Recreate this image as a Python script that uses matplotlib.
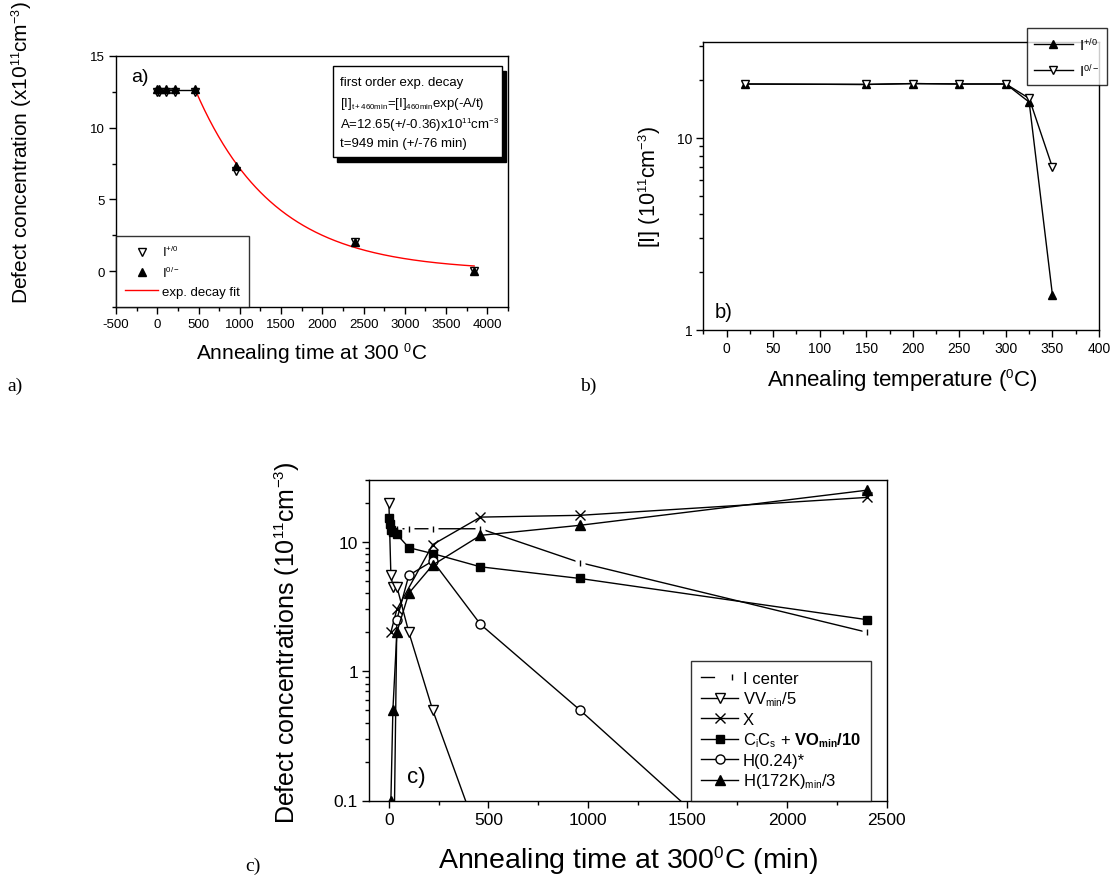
import numpy as np
import matplotlib
matplotlib.use("Agg")
import matplotlib.pyplot as plt
from matplotlib.patches import Rectangle
from matplotlib.lines import Line2D
from matplotlib.ticker import MultipleLocator, FixedLocator, FixedFormatter, LogLocator, NullFormatter
from matplotlib.legend_handler import HandlerTuple

try:
    # smaller super/subscripts, closer to the Origin look
    import matplotlib._mathtext as _mt
    _mt.SHRINK_FACTOR = 0.6
except Exception:
    pass

plt.rcParams['font.family'] = ['Liberation Sans', 'DejaVu Sans']
plt.rcParams['mathtext.fontset'] = 'custom'
plt.rcParams['mathtext.rm'] = 'Liberation Sans'
plt.rcParams['mathtext.it'] = 'Liberation Sans:italic'
plt.rcParams['mathtext.bf'] = 'Liberation Sans:bold'
plt.rcParams['axes.linewidth'] = 1.0
plt.rcParams['axes.unicode_minus'] = False

# ---------------- data ----------------
# (a) isothermal anneal at 300 C
a_time = [0, 20, 100, 220, 460, 960, 2400, 3840]
a_I_plus0 = [12.5, 12.5, 12.5, 12.5, 12.5, 7.0, 2.05, 0.0]
a_I_0minus = [12.7, 12.7, 12.7, 12.7, 12.7, 7.3, 2.05, 0.0]
fit_A = 12.65
fit_tau = 949
fit_t0 = 460
fit_tend = 3840

# (b) isochronal anneal
b_temp = [20, 150, 200, 250, 300, 325, 350]
b_I_plus0 = [19.0, 18.9, 19.1, 19.0, 19.0, 15.3, 1.52]
b_I_0minus = [19.0, 18.9, 19.1, 19.0, 19.0, 16.0, 7.0]

# (c) defect evolution at 300 C
c_I_t = [40, 100, 220, 460, 960, 2400]
c_I_v = [12.6, 12.6, 12.6, 12.6, 6.9, 2.0]
c_VV_t = [0, 10, 20, 40, 100, 220, 460]
c_VV_v = [20, 5.5, 4.5, 4.5, 2.0, 0.5, 0.048]
c_X_t = [10, 40, 220, 460, 960, 2400]
c_X_v = [2.0, 3.0, 9.5, 15.5, 16.0, 22.0]
c_CC_t = [0, 5, 10, 20, 40, 100, 220, 460, 960, 2400]
c_CC_v = [15.3, 13.8, 12.4, 11.9, 11.4, 9.0, 8.1, 6.4, 5.2, 2.5]
c_H24_t = [20, 40, 100, 220, 460, 960, 2400]
c_H24_v = [0.01, 2.5, 5.5, 7.1, 2.3, 0.5, 0.005]
c_H172_t = [10, 20, 40, 100, 220, 460, 960, 2400]
c_H172_v = [0.1, 0.5, 2.0, 4.0, 6.6, 11.2, 13.4, 25.0]

W, H = 1113, 879
fig = plt.figure(figsize=(W / 100, H / 100), dpi=100)


def box(l, t, r, b):
    return [l / W, 1 - b / H, (r - l) / W, (b - t) / H]


def fxy(x, y):
    return x / W, 1 - y / H


def style_axes(ax, size):
    ax.tick_params(which='both', direction='out', top=False, right=False,
                   labelsize=size, width=1.0, color='black')
    ax.tick_params(which='major', length=5, pad=3)
    ax.tick_params(which='minor', length=3)


# ---------------- panel (a) ----------------
ax1 = fig.add_axes(box(116, 57, 508, 308))
ax1.set_xlim(-500, 4250)
ax1.set_ylim(-2.5, 15)
ax1.xaxis.set_major_locator(MultipleLocator(500))
ax1.xaxis.set_minor_locator(MultipleLocator(250))
ax1.yaxis.set_major_locator(MultipleLocator(5))
ax1.yaxis.set_minor_locator(MultipleLocator(2.5))
style_axes(ax1, 9.5)

ax1.plot([a_time[0], fit_t0], [fit_A, fit_A], color='black', lw=1.0, zorder=2)
tt = np.linspace(fit_t0, fit_tend, 300)
ax1.plot(tt, fit_A * np.exp(-(tt - fit_t0) / fit_tau), color='red', lw=1.0, zorder=2)
ax1.plot(a_time, a_I_plus0, ls='none', marker='v', ms=6, mfc='white', mec='black', mew=1.0, zorder=3)
ax1.plot(a_time, a_I_0minus, ls='none', marker='^', ms=6, mfc='black', mec='black', zorder=3)

leg_a = [Line2D([], [], ls='none', marker='v', ms=6, mfc='white', mec='black'),
         Line2D([], [], ls='none', marker='^', ms=6, mfc='black', mec='black'),
         Line2D([], [], color='red', lw=1.0)]
la = ax1.legend(leg_a, [r'I$^{\mathregular{+/0}}$', r'I$^{\mathregular{0/-}}$', 'exp. decay fit'],
                loc='lower left', bbox_to_anchor=(0, 0), borderaxespad=0, fontsize=9.5,
                frameon=True, fancybox=False, edgecolor='black', handlelength=2.5,
                labelspacing=0.45, borderpad=0.7, handletextpad=0.3)
la.get_frame().set_linewidth(1.0)

# annotation box with drop shadow
bx0, by0 = (333 - 116) / 392, (308 - 158) / 251
bw, bh = (502 - 333) / 392, (158 - 67) / 251
ax1.add_patch(Rectangle((bx0 + 4 / 392, by0 - 5 / 251), bw, bh, transform=ax1.transAxes,
                        facecolor='black', edgecolor='black', zorder=5))
ax1.add_patch(Rectangle((bx0, by0), bw, bh, transform=ax1.transAxes,
                        facecolor='white', edgecolor='black', lw=1.0, zorder=6))
box_lines = ['first order exp. decay',
             r'[I]$_{\mathregular{t+460min}}$=[I]$_{\mathregular{460min}}$exp(-A/t)',
             r'A=12.65(+/-0.36)x10$^{\mathregular{11}}$cm$^{\mathregular{-3}}$',
             't=949 min (+/-76 min)']
for txt, yy in zip(box_lines, [83, 104, 125, 144]):
    fig.text(*fxy(340.5, yy), txt, fontsize=9.5, va='center', ha='left', zorder=7)

fig.text(*fxy(131, 78), 'a)', fontsize=14, va='center', ha='left')
fig.text(*fxy(312, 354), r'Annealing time at 300 $^{\mathregular{0}}$C', fontsize=15,
         ha='center', va='center')
fig.text(*fxy(22, 153), r'Defect concentration (x10$^{\mathregular{11}}$cm$^{\mathregular{-3}}$)',
         fontsize=15, rotation=90, ha='center', va='center')

# ---------------- panel (b) ----------------
ax2 = fig.add_axes(box(703.3, 43.3, 1099, 331))
ax2.set_yscale('log')
ax2.set_xlim(-25, 400)
ax2.set_ylim(1, 31.3)
ax2.xaxis.set_major_locator(MultipleLocator(50))
ax2.xaxis.set_minor_locator(MultipleLocator(25))
ax2.yaxis.set_major_locator(FixedLocator([1, 10]))
ax2.yaxis.set_major_formatter(FixedFormatter(['1', '10']))
ax2.yaxis.set_minor_locator(LogLocator(base=10, subs=np.arange(2, 10)))
ax2.yaxis.set_minor_formatter(NullFormatter())
style_axes(ax2, 10)

ax2.plot(b_temp, b_I_plus0, color='black', lw=1.0, marker='^', ms=6, mfc='black', mec='black', zorder=3)
ax2.plot(b_temp, b_I_0minus, color='black', lw=1.0, marker='v', ms=6, mfc='white', mec='black', zorder=3)

leg_b = [Line2D([], [], color='black', lw=1.0, marker='^', ms=6, mfc='black', mec='black'),
         Line2D([], [], color='black', lw=1.0, marker='v', ms=6, mfc='white', mec='black')]
lb = fig.legend(leg_b, [r'I$^{\mathregular{+/0}}$', r'I$^{\mathregular{0/-}}$'],
                loc='upper right', bbox_to_anchor=fxy(1106.7, 29.3), borderaxespad=0,
                fontsize=11, frameon=True, fancybox=False, edgecolor='black',
                handlelength=2.6, labelspacing=0.6, borderpad=0.45, handletextpad=0.4)
lb.get_frame().set_linewidth(1.0)

fig.text(*fxy(715, 313), 'b)', fontsize=14.5, va='center', ha='left')
fig.text(*fxy(902, 381), r'Annealing temperature ($^{\mathregular{0}}$C)', fontsize=16,
         ha='center', va='center')
fig.text(*fxy(650, 187), r'[I] (10$^{\mathregular{11}}$cm$^{\mathregular{-3}}$)',
         fontsize=15.5, rotation=90, ha='center', va='center')

# ---------------- panel (c) ----------------
ax3 = fig.add_axes(box(369, 481, 886.5, 801.5))
ax3.set_yscale('log')
ax3.set_xlim(-100, 2500)
ax3.set_ylim(0.1, 30)
ax3.xaxis.set_major_locator(MultipleLocator(500))
ax3.xaxis.set_minor_locator(MultipleLocator(250))
ax3.yaxis.set_major_locator(FixedLocator([0.1, 1, 10]))
ax3.yaxis.set_major_formatter(FixedFormatter(['0.1', '1', '10']))
ax3.yaxis.set_minor_locator(LogLocator(base=10, subs=np.arange(2, 10)))
ax3.yaxis.set_minor_formatter(NullFormatter())
style_axes(ax3, 12.5)

kw = dict(color='black', lw=1.0, mec='black', mew=1.0)
# I center: line interrupted around each bar marker
ax3.plot(c_I_t, c_I_v, color='black', lw=1.0, zorder=2)
ax3.plot(c_I_t, c_I_v, ls='none', marker='s', ms=7, mfc='white', mec='none', zorder=2.5)
ax3.plot(c_I_t, c_I_v, ls='none', marker='|', ms=5, mec='black', mew=1.0, zorder=3)
ax3.plot(c_VV_t, c_VV_v, marker='v', ms=7, mfc='white', zorder=3, **kw)
ax3.plot(c_X_t, c_X_v, marker='x', ms=7, zorder=3, **kw)
ax3.plot(c_CC_t, c_CC_v, marker='s', ms=6, mfc='black', zorder=3, **kw)
ax3.plot(c_H24_t, c_H24_v, marker='o', ms=6.5, mfc='white', zorder=3, **kw)
ax3.plot(c_H172_t, c_H172_v, marker='^', ms=7.5, mfc='black', zorder=3, **kw)

h_I = (Line2D([], [], color='black', lw=1.0),
       Line2D([], [], ls='none', marker='s', ms=7, mfc='white', mec='none'),
       Line2D([], [], ls='none', marker='|', ms=5, mec='black', mew=1.0))
h_VV = Line2D([], [], marker='v', ms=7, mfc='white', **kw)
h_X = Line2D([], [], marker='x', ms=7, **kw)
h_CC = Line2D([], [], marker='s', ms=6, mfc='black', **kw)
h_H24 = Line2D([], [], marker='o', ms=6.5, mfc='white', **kw)
h_H172 = Line2D([], [], marker='^', ms=7.5, mfc='black', **kw)
lc = ax3.legend([h_I, h_VV, h_X, h_CC, h_H24, h_H172],
                ['I center', r'VV$_{\mathregular{min}}$/5', 'X',
                 r'C$_{\mathregular{i}}$C$_{\mathregular{s}}$ + $\mathbf{VO_{min}/10}$',
                 'H(0.24)*', r'H(172K)$_{\mathregular{min}}$/3'],
                handler_map={tuple: HandlerTuple(ndivide=None, pad=0)},
                loc='lower right', bbox_to_anchor=((871 - 369) / 517.5, 0), borderaxespad=0,
                fontsize=12, frameon=True, fancybox=False, edgecolor='black',
                handlelength=2.2, labelspacing=0.22, borderpad=0.6, handletextpad=0.3)
lc.get_frame().set_linewidth(1.0)

fig.text(*fxy(407, 777), 'c)', fontsize=16, va='center', ha='left')
fig.text(*fxy(628, 861), r'Annealing time at 300$^{\mathregular{0}}$C (min)', fontsize=20.5,
         ha='center', va='center')
fig.text(*fxy(287, 643), r'Defect concentrations (10$^{\mathregular{11}}$cm$^{\mathregular{-3}}$)',
         fontsize=18, rotation=90, ha='center', va='center')

# sub-figure captions
serif = ['Liberation Serif', 'DejaVu Serif']
fig.text(*fxy(15, 386), 'a)', fontsize=14, family=serif, ha='center', va='center')
fig.text(*fxy(588, 386), 'b)', fontsize=14, family=serif, ha='center', va='center')
fig.text(*fxy(253, 866), 'c)', fontsize=14, family=serif, ha='center', va='center')

fig.savefig('out.png', dpi=100)
